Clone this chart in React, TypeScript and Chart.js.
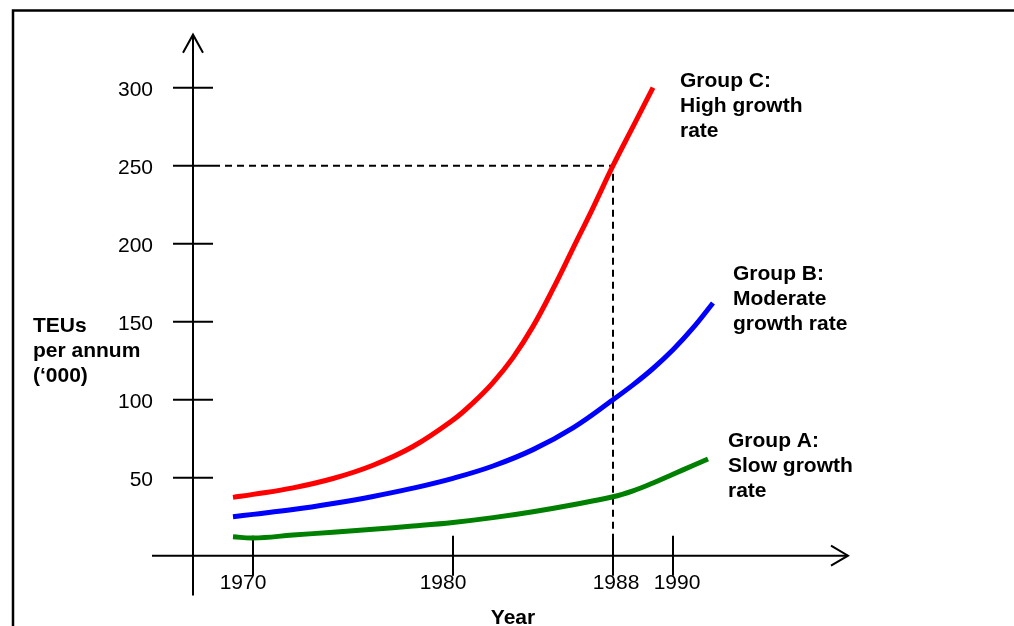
import React, { useEffect, useRef } from "react";
import { Chart, registerables } from "chart.js";

Chart.register(...registerables);

// ---- Data ----
const groupCYears = [1969, 1970, 1972, 1974, 1976, 1978, 1980, 1981, 1982, 1983, 1984, 1985, 1986, 1987, 1988, 1989, 1990];
const groupCValues = [37.4, 39.3, 43.5, 49.5, 58, 70, 87, 98, 111, 127, 147, 171, 197, 223, 250, 275, 300];

const groupBYears = [1969, 1970, 1972, 1974, 1976, 1978, 1980, 1982, 1984, 1986, 1988, 1989, 1990, 1991, 1992, 1993];
const groupBValues = [25, 26.5, 29.6, 33.5, 38, 43.3, 49.6, 57.5, 68, 82, 100, 109.5, 120, 132, 146, 162];

const groupAYears = [1969, 1970, 1972, 1974, 1976, 1978, 1980, 1982, 1984, 1986, 1988, 1989, 1990, 1991, 1992, 1992.75];
const groupAValues = [12.2, 11.3, 13.2, 15.1, 17, 19, 21.3, 24.4, 28.2, 32.7, 37.8, 41.6, 46.6, 52.2, 57.8, 62];

const yTickValues = [50, 100, 150, 200, 250, 300];
const xTickLabels = ["1970", "1980", "1988", "1990"];
const xTickPositions = [1970, 1980, 1988, 1991];

const groupCLabel = ["Group C:", "High growth", "rate"];
const groupBLabel = ["Group B:", "Moderate", "growth rate"];
const groupALabel = ["Group A:", "Slow growth", "rate"];
const yAxisTitle = ["TEUs", "per annum", "(\u2018000)"];
const xAxisTitle = "Year";

const highlightYear = 1988;
const highlightValue = 250;

// ---- Drawing helpers ----
const FONT = '"Liberation Sans", Arial, Helvetica, sans-serif';
// small horizontal nudges of the year labels, as hand-placed in the sketch
const xLabelNudge = [-10, -10, 3, 4];

const sketchPlugin = {
  id: "sketch",
  beforeDatasetsDraw(chart: any) {
    const { ctx } = chart;
    const xs = chart.scales.x;
    const ys = chart.scales.y;
    const X = (v: number) => xs.getPixelForValue(v);
    const Y = (v: number) => ys.getPixelForValue(v);

    ctx.save();
    ctx.strokeStyle = "#000";
    ctx.fillStyle = "#000";

    // frame (top + left edges visible)
    ctx.lineWidth = 2.5;
    ctx.beginPath();
    ctx.moveTo(13, 626);
    ctx.lineTo(13, 10.5);
    ctx.lineTo(1014, 10.5);
    ctx.stroke();

    const ax = X(1967);
    const ay = Y(0);
    ctx.lineWidth = 2;
    ctx.lineCap = "butt";

    // y axis with arrow
    const yTop = Y(334);
    ctx.beginPath();
    ctx.moveTo(ax, Y(-25.5));
    ctx.lineTo(ax, yTop);
    ctx.stroke();
    ctx.beginPath();
    ctx.moveTo(ax - 10, yTop + 18);
    ctx.lineTo(ax, yTop);
    ctx.lineTo(ax + 10, yTop + 18);
    ctx.stroke();

    // x axis with arrow
    const xRight = X(1999.75);
    ctx.beginPath();
    ctx.moveTo(X(1964.95), ay);
    ctx.lineTo(xRight, ay);
    ctx.stroke();
    ctx.beginPath();
    ctx.moveTo(xRight - 17, ay - 10);
    ctx.lineTo(xRight, ay);
    ctx.lineTo(xRight - 17, ay + 10);
    ctx.stroke();

    // dashed guide lines
    ctx.setLineDash([7, 5]);
    ctx.beginPath();
    ctx.moveTo(ax + 20, Y(highlightValue));
    ctx.lineTo(X(highlightYear), Y(highlightValue));
    ctx.lineTo(X(highlightYear), ay);
    ctx.stroke();
    ctx.setLineDash([]);

    // y ticks + labels
    ctx.font = `21px ${FONT}`;
    ctx.textAlign = "right";
    ctx.textBaseline = "middle";
    yTickValues.forEach((v) => {
      const py = Y(v);
      ctx.beginPath();
      ctx.moveTo(ax - 20, py);
      ctx.lineTo(ax + 20, py);
      ctx.stroke();
      ctx.fillText(String(v), ax - 40, py + 3);
    });

    // x ticks + labels
    ctx.textAlign = "center";
    xTickPositions.forEach((p, i) => {
      const px = X(p);
      ctx.beginPath();
      ctx.moveTo(px, ay - 20);
      ctx.lineTo(px, ay + 20);
      ctx.stroke();
      ctx.fillText(xTickLabels[i], px + xLabelNudge[i], ay + 28);
    });

    ctx.restore();
  },
  afterDatasetsDraw(chart: any) {
    const { ctx } = chart;
    const xs = chart.scales.x;
    const ys = chart.scales.y;
    const X = (v: number) => xs.getPixelForValue(v);
    const Y = (v: number) => ys.getPixelForValue(v);

    ctx.save();
    ctx.fillStyle = "#000";
    ctx.font = `bold 21px ${FONT}`;
    ctx.textAlign = "left";
    ctx.textBaseline = "alphabetic";

    const block = (lines: string[], x: number, y: number) => {
      lines.forEach((t, i) => ctx.fillText(t, x, y + i * 25));
    };

    block(groupCLabel, X(1991.35), Y(300.4));
    block(groupBLabel, X(1994), Y(176.7));
    block(groupALabel, X(1993.75), Y(69.7));
    block(yAxisTitle, 33, Y(143.5));

    ctx.textAlign = "center";
    ctx.fillText(xAxisTitle, X(1983), Y(0) + 68);
    ctx.restore();
  },
};

const toPoints = (xsArr: number[], ysArr: number[]) =>
  xsArr.map((x, i) => ({ x, y: ysArr[i] }));

export default function App() {
  const canvasRef = useRef<HTMLCanvasElement | null>(null);

  useEffect(() => {
    if (!canvasRef.current) return;
    const common = {
      fill: false,
      pointRadius: 0,
      borderWidth: 5,
      tension: 0.4,
      cubicInterpolationMode: "default" as const,
      clip: false as any,
    };
    const chart = new Chart(canvasRef.current, {
      type: "line",
      data: {
        datasets: [
          { ...common, label: "Group A", data: toPoints(groupAYears, groupAValues), borderColor: "#008000" },
          { ...common, label: "Group B", data: toPoints(groupBYears, groupBValues), borderColor: "#0000FF" },
          { ...common, label: "Group C", data: toPoints(groupCYears, groupCValues), borderColor: "#FF0000" },
        ],
      },
      options: {
        responsive: false,
        animation: false,
        events: [],
        devicePixelRatio: 1,
        layout: { padding: { left: 133, right: 161, top: 25.3, bottom: 23.5 } },
        scales: {
          x: { type: "linear", min: 1964, max: 2000, display: false },
          y: { type: "linear", min: -30, max: 340, display: false },
        },
        plugins: {
          legend: { display: false },
          tooltip: { enabled: false },
        },
      },
      plugins: [sketchPlugin],
    });
    return () => chart.destroy();
  }, []);

  return (
    <div style={{ position: "fixed", left: 0, top: 0, width: 1014, height: 626, background: "#fff" }}>
      <canvas ref={canvasRef} width={1014} height={626} style={{ display: "block" }} />
    </div>
  );
}
